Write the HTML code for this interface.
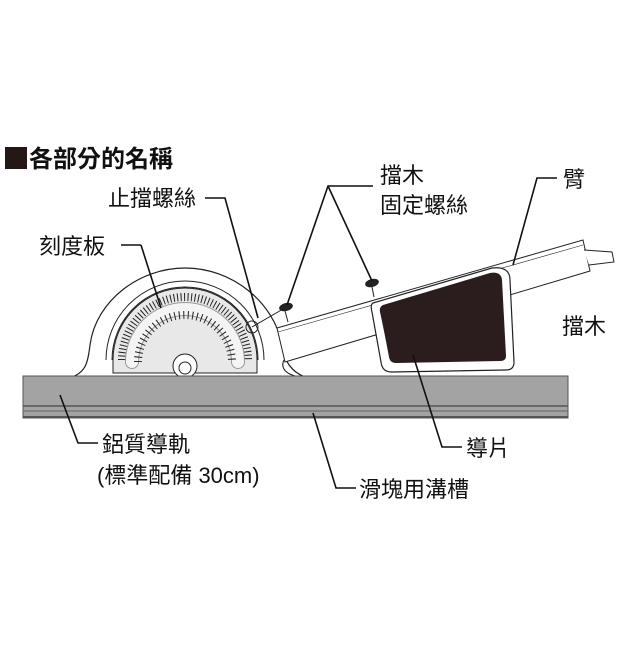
<!DOCTYPE html>
<html><head><meta charset="utf-8"><style>
body{margin:0;background:#fff}
svg text{font-family:"Liberation Sans","Noto Sans CJK TC",sans-serif;fill:#111}
</style></head><body>
<svg width="640" height="640" viewBox="0 0 640 640" xmlns="http://www.w3.org/2000/svg">
<rect width="640" height="640" fill="#fff"/>
<rect x="5" y="147" width="22" height="22" fill="#231815"/>
<text x="29" y="167" font-size="24" font-weight="bold">各部分的名稱</text>

<path d="M72 377 C86 372 88 362 90 345 C96 300 140 268 185 268 C232 268 274 302 282 345 C284 362 292 372 305 377 Z" fill="#fff" stroke="#222" stroke-width="1.2"/>
<path d="M106 360 A79 79 0 0 1 264 360" fill="none" stroke="#222" stroke-width="1"/>
<path d="M112 360 A73 73 0 0 1 258 360" fill="none" stroke="#222" stroke-width="1"/>
<path d="M113 373 L113 360 A72 72 0 0 1 257 360 L257 373 Z" fill="#e8e8e8" stroke="#222" stroke-width="1"/>
<path d="M122 360 A63 63 0 0 1 248 360" fill="none" stroke="#222" stroke-width="8" stroke-dasharray="1 2.5"/>
<path d="M132 362 A53 53 0 0 1 238 362" fill="none" stroke="#999" stroke-width="14" stroke-linecap="round"/>
<path d="M132 362 A53 53 0 0 1 238 362" fill="none" stroke="#f4f4f4" stroke-width="12" stroke-linecap="round"/>
<path d="M138 362 A47 47 0 0 1 232 362" fill="none" stroke="#222" stroke-width="8" stroke-dasharray="1 3.5"/>
<circle cx="185" cy="366" r="12" fill="#fff" stroke="#222"/>
<circle cx="185" cy="368" r="6" fill="#fff" stroke="#222"/>
<circle cx="252" cy="327" r="6" fill="none" stroke="#222"/>
<line x1="252" y1="327" x2="290" y2="305" stroke="#222" stroke-width="1"/>

<path d="M277 328 L583 240 L590 271 L285 362 Z" fill="#fff" stroke="#222" stroke-width="1"/>
<path d="M284 360 C280 368 286 375 300 377" fill="none" stroke="#222"/>
<path d="M584 250 L612 252 L614 262 L589 265" fill="#fff" stroke="#222"/>
<line x1="278" y1="332" x2="583" y2="245" stroke="#222" stroke-width="0.6"/>
<ellipse cx="286" cy="307" rx="7" ry="4" fill="#222" transform="rotate(-15 286 307)"/>
<line x1="285" y1="311" x2="288" y2="322" stroke="#222"/>
<ellipse cx="372" cy="283" rx="7" ry="4" fill="#222" transform="rotate(-15 372 283)"/>
<line x1="372" y1="287" x2="374" y2="297" stroke="#222"/>

<path d="M373 303 L492 268 Q510 266 510 280 L514 362 Q514 370 506 370 L392 372 Q382 372 381 362 L372 312 Q370 305 373 303 Z" fill="#fff" stroke="#222" stroke-width="1.2"/>
<path d="M383 305 L490 273 Q501 271 502 280 L506 356 Q506 361 500 361 L396 363 Q390 363 389 357 Q384 330 380 312 Q379 307 383 305 Z" fill="#2b1d1d"/>

<rect x="23" y="376" width="545" height="42" fill="#a3a3a3" stroke="#555" stroke-width="1"/>
<line x1="23" y1="406" x2="568" y2="406" stroke="#555" stroke-width="1.5"/>
<line x1="23" y1="411" x2="568" y2="411" stroke="#666" stroke-width="1"/>
<line x1="23" y1="417" x2="568" y2="417" stroke="#555" stroke-width="2"/>

<g fill="none" stroke="#111" stroke-width="1.6">
<polyline points="205,198 225,198 258,318"/>
<polyline points="287,305 328,186 373,186"/>
<polyline points="328,186 372,281"/>
<polyline points="557,178 537,178 513,265"/>
<polyline points="141,245 121,245"/>
<polyline points="141,245 161,308"/>
<polyline points="98,443 78,443 60,395"/>
<polyline points="356,488 336,488 313,413"/>
<polyline points="462,447 442,447 413,355"/>
</g>

<text x="108" y="206" font-size="22">止擋螺絲</text>
<text x="380" y="183" font-size="22">擋木</text>
<text x="380" y="213" font-size="22">固定螺絲</text>
<text x="563" y="187" font-size="22">臂</text>
<text x="39" y="254" font-size="22">刻度板</text>
<text x="562" y="334" font-size="22">擋木</text>
<text x="102" y="452" font-size="22">鋁質導軌</text>
<text x="97" y="483" font-size="22">(標準配備 30cm)</text>
<text x="466" y="456" font-size="22">導片</text>
<text x="359" y="497" font-size="22">滑塊用溝槽</text>
</svg>
</body></html>
